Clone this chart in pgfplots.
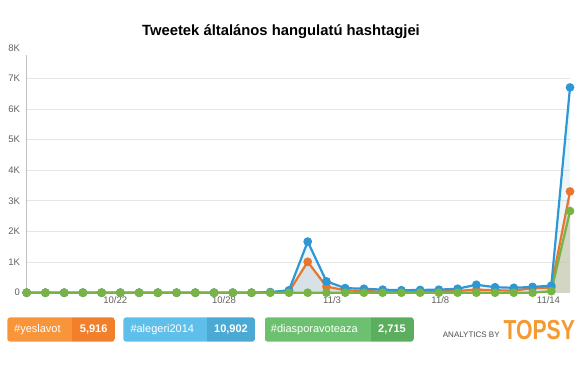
\documentclass[border=0pt]{standalone}
\usepackage{pgfplots}
\pgfplotsset{compat=1.18}
\usepackage{pgfplotstable}
\usepackage{graphicx}
\usepackage{fontspec}
\setmainfont{Liberation Sans}
\definecolor{cblue}{HTML}{2F97D4}
\definecolor{corange}{HTML}{E8762D}
\definecolor{cgreen}{HTML}{77B443}
\definecolor{gridc}{HTML}{E6E6E6}
\definecolor{tickc}{HTML}{606060}
\definecolor{axc}{HTML}{C0C0C0}
\definecolor{oL}{HTML}{F8943A}
\definecolor{oR}{HTML}{F27F2B}
\definecolor{bL}{HTML}{5EC0EA}
\definecolor{bR}{HTML}{4AAAD4}
\definecolor{gL}{HTML}{6CC070}
\definecolor{gR}{HTML}{5AAE5E}
\definecolor{topsy}{HTML}{F39A33}
\pgfplotstableread{
k blue orange green
0 0 0 0
1 0 0 0
2 0 0 0
3 0 0 0
4 0 0 0
5 0 0 0
6 0 0 0
7 0 0 0
8 0 0 0
9 0 0 0
10 0 0 0
11 0 0 0
12 0 0 0
13 20 10 0
14 80 40 0
15 1670 1010 0
16 370 200 0
17 150 80 0
18 130 50 0
19 100 40 0
20 80 40 0
21 90 40 0
22 100 50 0
23 130 60 0
24 260 100 0
25 180 80 0
26 160 70 0
27 190 150 0
28 230 170 50
29 6710 3310 2670
}\data
\begin{document}
\begin{tikzpicture}[x=1bp,y=1bp]
\useasboundingbox (0,0) rectangle (580,387);
\node[font=\fontsize{14.8bp}{17bp}\selectfont\bfseries] at (281,355.4) {Tweetek általános hangulatú hashtagjei};
\begin{axis}[
  at={(26.7bp,94.3bp)}, anchor=south west,
  scale only axis, width=543.3bp, height=244.7bp,
  xmin=0, xmax=29, ymin=0, ymax=8000,
  clip=false,
  axis line style={draw=none},
  major tick length=0pt,
  ytick={0,1000,2000,3000,4000,5000,6000,7000},
  yticklabels={0,1K,2K,3K,4K,5K,6K,7K},
  extra y ticks={8000}, extra y tick labels={8K},
  extra y tick style={grid=none},
  ymajorgrids, major grid style={color=gridc, line width=0.9bp},
  xtick={4.73,10.53,16.3,22.08,27.85},
  xticklabels={10/22,10/28,11/3,11/8,11/14},
  /pgf/number format/assume math mode=true,
  ticklabel style={font=\fontsize{9.5bp}{11bp}\selectfont, text=tickc},
  yticklabel style={anchor=east, inner sep=0pt, xshift=-6.5bp},
  xticklabel style={anchor=north, inner sep=0pt, yshift=-3.5bp},
  every axis plot/.append style={line width=2.2bp, mark=*, mark size=3.2bp, mark options={solid}},
]
\draw[color=axc, line width=0.9bp] (axis cs:0,0) -- (axis cs:0,7780);
\addplot[draw=none, fill=black!22, fill opacity=0.4, mark=none, forget plot] table[x=k,y=orange] {\data} \closedcycle;
\addplot[draw=none, fill=cblue, fill opacity=0.09, mark=none, forget plot] table[x=k,y=blue] {\data} \closedcycle;
\addplot[draw=none, fill=olive!60!black!30, fill opacity=0.6, mark=none, forget plot] table[x=k,y=green] {\data} \closedcycle;
\addplot[color=corange, mark options={fill=corange, draw=corange}] table[x=k,y=orange] {\data};
\addplot[color=cblue, mark options={fill=cblue, draw=cblue}] table[x=k,y=blue] {\data};
\addplot[color=cgreen, mark options={fill=cgreen, draw=cgreen}] table[x=k,y=green] {\data};
\end{axis}
% legend badges
\begin{scope}
\clip[rounded corners=3bp] (7.3,45.3) rectangle (115,69.7);
\fill[oL] (7.3,45.3) rectangle (72.3,69.7);
\fill[oR] (72.3,45.3) rectangle (115,69.7);
\end{scope}
\begin{scope}
\clip[rounded corners=3bp] (123.3,45.3) rectangle (255.3,69.7);
\fill[bL] (123.3,45.3) rectangle (207,69.7);
\fill[bR] (207,45.3) rectangle (255.3,69.7);
\end{scope}
\begin{scope}
\clip[rounded corners=3bp] (264.7,45.3) rectangle (413.8,69.7);
\fill[gL] (264.7,45.3) rectangle (370.6,69.7);
\fill[gR] (370.6,45.3) rectangle (413.8,69.7);
\end{scope}
\begin{scope}[every node/.style={text=white, font=\fontsize{11bp}{13bp}\selectfont, inner sep=0pt}]
\node[anchor=west] at (14,57.5) {\#yeslavot};
\node at (93.7,57.5) {\bfseries 5,916};
\node[anchor=west] at (130.3,57.5) {\#alegeri2014};
\node at (231,57.5) {\bfseries 10,902};
\node[anchor=west] at (270.7,57.5) {\#diasporavoteaza};
\node at (392,57.5) {\bfseries 2,715};
\end{scope}
\node[anchor=base west, inner sep=0pt, text=black!70, font=\fontsize{8bp}{9bp}\selectfont] at (442.7,49.7) {ANALYTICS BY};
\node[anchor=base west, inner sep=0pt, text=topsy, font=\fontsize{27.5bp}{30bp}\selectfont\bfseries] at (503.3,48) {\scalebox{0.77}[1]{TOPSY}};
\end{tikzpicture}
\end{document}
